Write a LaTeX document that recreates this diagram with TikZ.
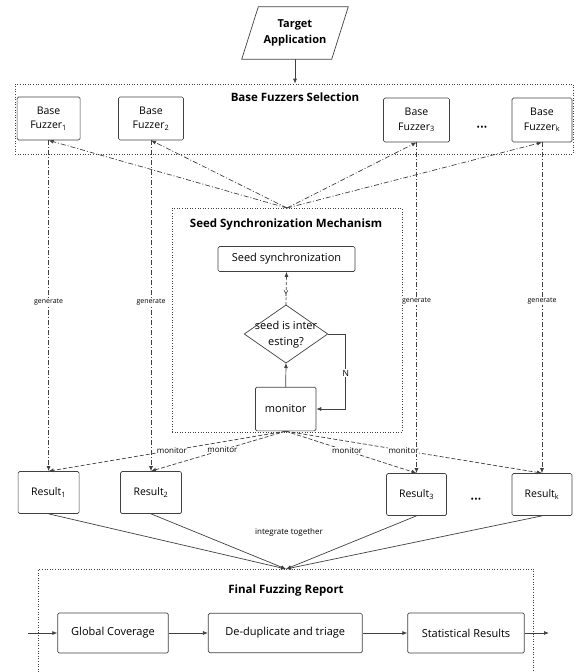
\documentclass[tikz,border=0pt]{standalone}
\usepackage{fontspec}
\setmainfont{Open Sans}
\usetikzlibrary{arrows.meta}
\definecolor{ln}{HTML}{404040}
\begin{document}
\begin{tikzpicture}[x=1pt,y=-1pt,
  box/.style={draw=ln, line width=0.7pt, rounded corners=1.5pt, align=center, inner sep=0pt, font=\fontsize{10.5}{14.5}\selectfont},
  grp/.style={draw=ln, dotted, line width=0.6pt},
  arr/.style={-{Latex[length=5pt,width=4pt]}, draw=ln, line width=0.7pt},
  ddot/.style={arr, dash pattern=on 5pt off 2pt on 1pt off 2pt},
  dsh/.style={arr, dash pattern=on 4pt off 2pt},
  lbl/.style={fill=white, inner sep=0.5pt, font=\fontsize{7}{8}\selectfont},
  mlbl/.style={fill=white, inner sep=0.5pt, font=\fontsize{8}{9}\selectfont},
  ttl/.style={font=\bfseries\fontsize{11.5}{13}\selectfont},
  dots/.style={font=\fontsize{9}{10}\selectfont}
]
\useasboundingbox (0,0) rectangle (576,672);

% Target application
\draw[draw=ln, line width=0.7pt] (241.7,59.3) -- (258.3,6.7) -- (348.3,6.7) -- (331.7,59.3) -- cycle;
\node[align=center, font=\bfseries\fontsize{11}{15.5}\selectfont] (ta) at (295,33) {Target\\Application};
\coordinate (tab) at (295,59.3);

% Base fuzzers selection
\node[grp, minimum width=558, minimum height=70, inner sep=0pt] (bfs) at (294,119) {};
\node[ttl] (bfst) at (295,97) {Base Fuzzers Selection};
\draw[arr] (tab) -- (tab |- bfs.north);

\node[box, minimum width=63, minimum height=43] (f1) at (48.6,118.5) {Base\\Fuzzer\textsubscript{1}};
\node[box, minimum width=65, minimum height=43] (f2) at (151,118.5) {Base\\Fuzzer\textsubscript{2}};
\node[box, minimum width=66, minimum height=44] (f3) at (416.5,120) {Base\\Fuzzer\textsubscript{3}};
\node[box, minimum width=60, minimum height=44] (fk) at (542,120) {Base\\Fuzzer\textsubscript{k}};
\node[dots] (dt1) at (482,128) {\textbullet\kern0.3pt\textbullet\kern0.3pt\textbullet};

% Seed synchronization mechanism
\node[grp, minimum width=230, minimum height=224, inner sep=0pt] (ssm) at (287,320) {};
\coordinate (cs) at (287,208);
\node[ttl] (ssmt) at (286,225) {Seed Synchronization Mechanism};
\node[box, minimum width=137, minimum height=25, font=\fontsize{11}{14}\selectfont] (sync) at (286.5,259) {Seed synchronization};
\coordinate (dtp) at (286,305);
\coordinate (drt) at (327.7,334);
\coordinate (dbt) at (286,363);
\coordinate (dlf) at (244.3,334);
\draw[draw=ln, line width=0.7pt] (dtp) -- (drt) -- (dbt) -- (dlf) -- cycle;
\node[align=center, inner sep=0pt, font=\fontsize{11}{16}\selectfont] (dia) at (286,335) {seed is inter\\esting?};
\node[box, minimum width=60.5, minimum height=43.7, font=\fontsize{11}{14}\selectfont] (mon) at (285.7,409) {monitor};

\draw[arr, dash pattern=on 3pt off 2pt] (dtp) -- (sync.south) node[lbl, pos=0.35, font=\fontsize{8}{9}\selectfont] {Y};
\draw[arr] (mon.north) -- (dbt);
\draw[arr] (drt) -- ++(18,0) |- (mon.east) node[lbl, pos=0.26, font=\fontsize{8.5}{9}\selectfont] {N};

% selection arrows
\draw[ddot] (cs) -- (f1.south);
\draw[ddot] (cs) -- (f2.south);
\draw[ddot] (cs) -- (f3.south);
\draw[ddot] (cs) -- (fk.south);

% Results
\node[box, minimum width=61, minimum height=42] (r1) at (48.6,492.5) {Result\textsubscript{1}};
\node[box, minimum width=61, minimum height=42] (r2) at (151,492.5) {Result\textsubscript{2}};
\node[box, minimum width=60, minimum height=42] (r3) at (416.5,494.5) {Result\textsubscript{3}};
\node[box, minimum width=60, minimum height=42] (rk) at (542,494.5) {Result\textsubscript{k}};
\node[dots] (dt2) at (476,500) {\textbullet\kern0.3pt\textbullet\kern0.3pt\textbullet};

% generate arrows
\draw[ddot] (f1.south) -- (f1.south |- r1.north) node[lbl, pos=0.49] {generate};
\draw[ddot] (f2.south) -- (f2.south |- r2.north) node[lbl, pos=0.49] {generate};
\draw[ddot] (f3.south) -- (f3.south |- r3.north) node[lbl, pos=0.48] {generate};
\draw[ddot] (fk.south) -- (fk.south |- rk.north) node[lbl, pos=0.48] {generate};

% monitor arrows
\draw[dsh] (mon.south) -- (r1.north) node[mlbl, pos=0.48] {monitor};
\draw[dsh] (mon.south) -- (r2.north) node[mlbl, pos=0.47] {monitor};
\draw[dsh] (mon.south) -- (r3.north) node[mlbl, pos=0.47] {monitor};
\draw[dsh] (mon.south) -- (rk.north) node[mlbl, pos=0.46] {monitor};

% Integrate
\coordinate (ci) at (286,569);
\draw[arr] (r1.south) -- (ci);
\draw[arr] (r2.south) -- (ci);
\draw[arr] (r3.south) -- (ci);
\draw[arr] (rk.south) -- (ci);
\node[font=\fontsize{8}{9}\selectfont] (itg) at (289,532) {integrate together};

% Final fuzzing report
\draw[draw=ln, dotted, line width=0.6pt] (38.3,672) -- (38.3,569) -- (533.7,569) -- (533.7,672);
\node[ttl] (ffr) at (286,591) {Final Fuzzing Report};
\node[box, minimum width=110.6, minimum height=40, font=\fontsize{11}{14}\selectfont] (gc) at (113,633) {Global Coverage};
\node[box, minimum width=154, minimum height=39.4, font=\fontsize{11}{14}\selectfont] (dd) at (285.3,633) {De-duplicate and triage};
\node[box, minimum width=116.6, minimum height=40, font=\fontsize{11}{14}\selectfont] (sr) at (466,633) {Statistical Results};
\coordinate (fin) at (28,633);
\coordinate (fout) at (549,633);
\draw[arr] (fin) -- (gc.west);
\draw[arr] (gc.east) -- (dd.west);
\draw[arr] (dd.east) -- (sr.west);
\draw[arr] (sr.east) -- (fout);
\end{tikzpicture}
\end{document}
